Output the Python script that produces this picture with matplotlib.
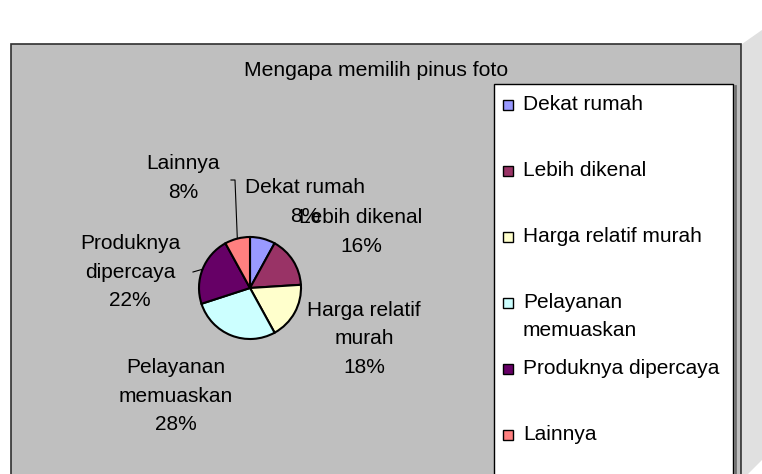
import numpy as np
import matplotlib.pyplot as plt
from matplotlib.patches import Rectangle, Polygon

plt.rcParams["font.family"] = ["Liberation Sans", "DejaVu Sans"]

# Chart data
title = "Mengapa memilih pinus foto"
categories = ["Dekat rumah", "Lebih dikenal", "Harga relatif murah",
              "Pelayanan memuaskan", "Produknya dipercaya", "Lainnya"]
values = [4, 8, 9, 14, 11, 4]
colors = ["#9999FF", "#993366", "#FFFFCC", "#CCFFFF", "#660066", "#FF8080"]

# How the names are broken over lines
pie_names = ["Dekat rumah", "Lebih dikenal", "Harga relatif\nmurah",
             "Pelayanan\nmemuaskan", "Produknya\ndipercaya", "Lainnya"]
legend_names = ["Dekat rumah", "Lebih dikenal", "Harga relatif murah",
                "Pelayanan\nmemuaskan", "Produknya dipercaya", "Lainnya"]

# Layout (pixel units, y downwards)
label_pos = [(305, 202), (361, 232), (364, 339), (176, 396), (130, 272), (183, 178)]
leader_start = [None, None, None, None, [(193, 272)], [(231, 180), (235, 180)]]
pie_center = (250, 288)
pie_radius = 51

fig = plt.figure(figsize=(7.62, 4.74), dpi=100)
ax = fig.add_axes([0, 0, 1, 1])

# Chart area, 3D side wall and legend box
ax.add_patch(Polygon([(742, 44), (762, 30), (762, 460), (748, 474), (742, 474)],
                     closed=True, facecolor="#E0E0E0", edgecolor="none", zorder=0))
ax.add_patch(Rectangle((11, 44), 730, 440, facecolor="#BFBFBF",
                       edgecolor="#303030", linewidth=1.2, zorder=1))
ax.add_patch(Rectangle((494, 84), 239, 400, facecolor="white",
                       edgecolor="black", linewidth=1.0, zorder=2))
ax.plot([735, 735], [86, 474], color="#707070", linewidth=2, zorder=2)

# Pie, clockwise from the top (y axis is flipped)
wedges, _ = ax.pie(values, colors=colors, startangle=-90, counterclock=True,
                   center=pie_center, radius=pie_radius,
                   wedgeprops=dict(edgecolor="black", linewidth=1.5))
for w in wedges:
    w.set_zorder(3)

total = sum(values)
for w, name, v, (lx, ly), lead in zip(wedges, pie_names, values, label_pos, leader_start):
    pct = "{:.0f}%".format(100 * v / total)
    ax.text(lx, ly, name + "\n" + pct, ha="center", va="center",
            fontsize=15, linespacing=1.62, zorder=4)
    if lead:
        # leader line from the label to the middle of the slice's rim
        mid = np.radians((w.theta1 + w.theta2) / 2)
        ex = pie_center[0] + pie_radius * np.cos(mid)
        ey = pie_center[1] + pie_radius * np.sin(mid)
        xs = [p[0] for p in lead] + [ex]
        ys = [p[1] for p in lead] + [ey]
        ax.plot(xs, ys, color="black", linewidth=0.8, zorder=4)

ax.text(376, 70, title, ha="center", va="center", fontsize=15.2, zorder=4)

# Legend entries
for i, (name, col) in enumerate(zip(legend_names, colors)):
    y = 103 + 66 * i
    ax.add_patch(Rectangle((503, y - 3), 10, 10, facecolor=col,
                           edgecolor="black", linewidth=1.0, zorder=3))
    ax.text(523, y - 8, name, ha="left", va="top", fontsize=15,
            linespacing=1.62, zorder=4)

ax.set_xlim(0, 762)
ax.set_ylim(474, 0)
ax.set_aspect("equal")
ax.axis("off")

fig.savefig("out.png", dpi=100, facecolor="white")
